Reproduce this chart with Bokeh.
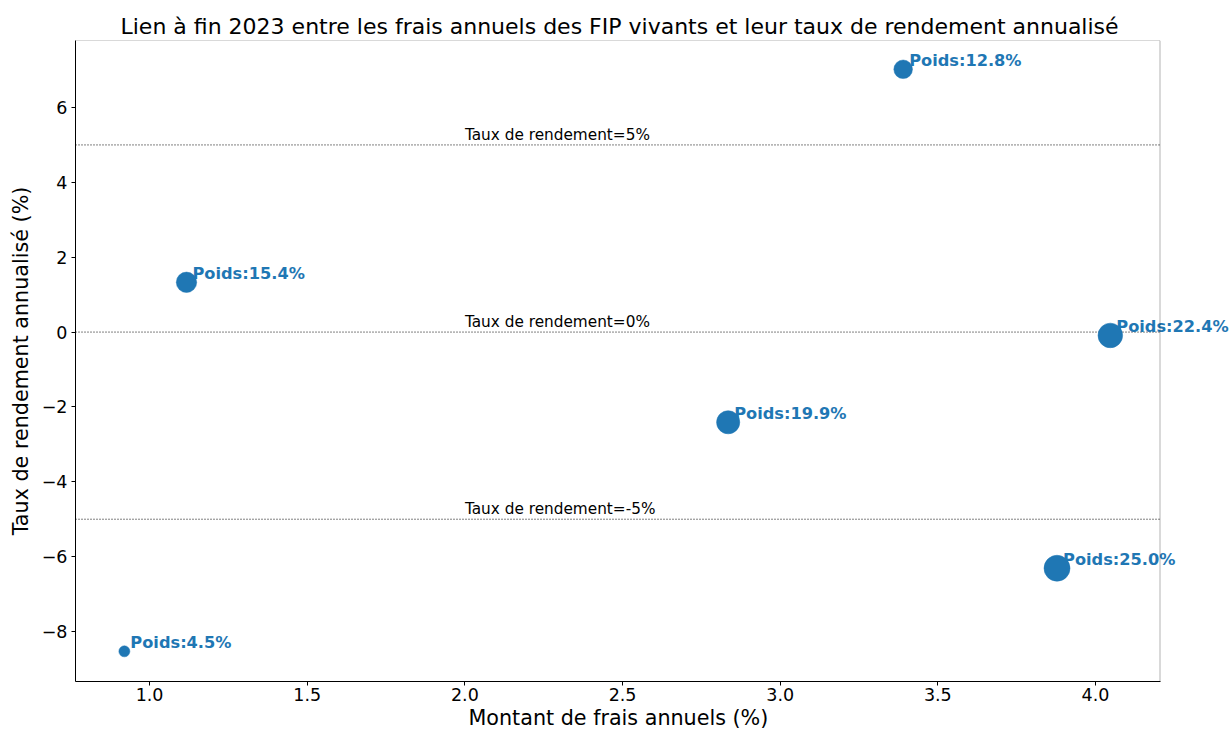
from bokeh.plotting import figure
from bokeh.models import ColumnDataSource, FixedTicker, BoxAnnotation, Label, Range1d, Title
from bokeh.embed import file_html
from bokeh.resources import INLINE
import numpy as np

# Annual fees (%) and annualised return (%) for each group of live FIP funds
frais = [0.92, 1.117, 2.835, 3.39, 3.878, 4.047]
rendement = [-8.53, 1.33, -2.41, 7.02, -6.31, -0.09]
poids = [4.5, 15.4, 19.9, 12.8, 25.0, 22.4]

seuils = [5, 0, -5]
x_ticks = [1.0, 1.5, 2.0, 2.5, 3.0, 3.5, 4.0]
y_ticks = [-8, -6, -4, -2, 0, 2, 4, 6]

# Axes box limits; the canvas continues to the right so labels can overflow it
X_LO, X_HI = 0.765, 4.2046
Y_LO, Y_HI = -9.336, 7.79
X_CANVAS_END = 4.425

FONT = "DejaVu Sans"
BLUE = "#1f77b4"

src = ColumnDataSource(dict(
    x=frais,
    y=rendement,
    size=[5.2 * np.sqrt(w) for w in poids],
))

p = figure(
    width=1229, height=731,
    x_range=Range1d(X_LO, X_CANVAS_END), y_range=Range1d(Y_LO, Y_HI),
    output_backend="svg", toolbar_location=None,
    min_border_left=75, min_border_right=0,
    min_border_top=40, min_border_bottom=50,
)
p.title.text = "Lien à fin 2023 entre les frais annuels des FIP vivants et leur taux de rendement annualisé"
p.title.align = "left"
p.title.offset = 45
p.title.text_font = FONT
p.title.text_font_size = "22px"
p.title.text_font_style = "normal"
p.title.text_color = "#000000"
p.title.standoff = 4

p.xgrid.visible = False
p.ygrid.visible = False
p.outline_line_color = None
p.background_fill_color = "white"
p.border_fill_color = "white"

for ax in (p.xaxis[0], p.yaxis[0]):
    ax.axis_label_text_font = FONT
    ax.axis_label_text_font_size = "20.7px"
    ax.axis_label_text_font_style = "normal"
    ax.axis_label_text_color = "#000000"
    ax.major_label_text_font = FONT
    ax.major_label_text_font_size = "17.5px"
    ax.major_label_text_color = "#000000"
    ax.major_tick_in = 0
    ax.major_tick_out = 4
    ax.minor_tick_in = 0
    ax.minor_tick_out = 0
    ax.axis_line_color = "#000000"
    ax.major_tick_line_color = "#000000"

p.xaxis.bounds = (X_LO, X_HI)
p.yaxis.axis_label = "Taux de rendement annualisé (%)"
p.xaxis.ticker = FixedTicker(ticks=x_ticks)
p.yaxis.ticker = FixedTicker(ticks=y_ticks)
p.xaxis.major_label_overrides = {t: f"{t:.1f}" for t in x_ticks}
p.yaxis.major_label_overrides = {t: (f"\u2212{abs(t)}" if t < 0 else str(t)) for t in y_ticks}
p.yaxis.axis_label_standoff = 6
p.xaxis.major_label_standoff = 2
p.yaxis.major_label_standoff = 4

# x-axis title, centred under the axes box rather than the whole canvas
p.add_layout(Title(text="Montant de frais annuels (%)", align="left", offset=393,
                   text_font=FONT, text_font_size="20.7px", text_font_style="normal",
                   text_color="#000000", standoff=0), "below")

# Axes box
p.add_layout(BoxAnnotation(left=X_LO, right=X_HI, bottom=Y_LO, top=Y_HI,
                           fill_alpha=0, line_color="#000000", line_width=1,
                           level="overlay"))

# Reference return levels
p.segment(x0=[X_LO] * len(seuils), x1=[X_HI] * len(seuils), y0=seuils, y1=seuils,
          line_color="#000000", line_width=1, line_dash="1 2")
for s in seuils:
    p.add_layout(Label(x=2.0, y=s, text=f"Taux de rendement={s}%",
                       text_font=FONT, text_font_size="15.3px", text_color="#000000",
                       text_baseline="bottom", y_offset=1))

p.scatter("x", "y", source=src, size="size", fill_color=BLUE, line_color=BLUE,
          line_width=0.5)

# Weight labels next to each fund group
for fx, ry, w in zip(frais, rendement, poids):
    p.add_layout(Label(x=fx, y=ry, text=f"Poids:{w:.1f}%", x_offset=6, y_offset=-1,
                       text_font=FONT, text_font_size="16.2px", text_font_style="bold",
                       text_color=BLUE, text_baseline="bottom", text_align="left"))

open("out.html", "w").write(file_html(p, INLINE))
